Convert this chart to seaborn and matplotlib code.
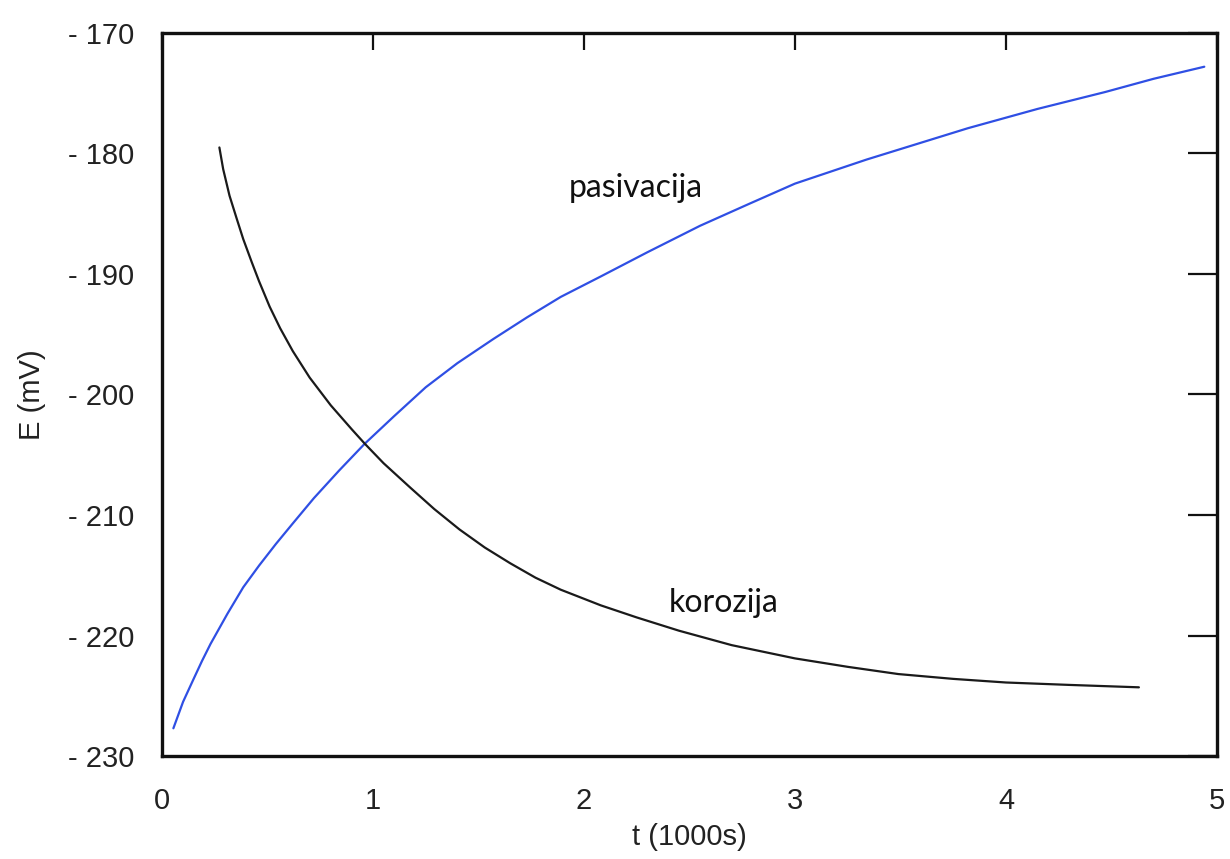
import pandas as pd
import matplotlib
matplotlib.use("Agg")
import matplotlib.pyplot as plt
import seaborn as sns
from matplotlib.ticker import FuncFormatter


# ---------------------------------------------------------
# data
# ---------------------------------------------------------

t_pasivacija = [0.054, 0.10, 0.15, 0.19, 0.23, 0.31, 0.385, 0.46, 0.54, 0.62,
                0.72, 0.84, 0.96, 1.10, 1.25, 1.40, 1.57, 1.73, 1.89, 2.08,
                2.30, 2.55, 2.78, 3.0, 3.34, 3.58, 3.82, 4.15, 4.47, 4.70, 4.94]
E_pasivacija = [-227.7, -225.5, -223.6, -222.1, -220.7, -218.2, -216.0, -214.2,
                -212.4, -210.7, -208.6, -206.3, -204.1, -201.8, -199.4, -197.4,
                -195.4, -193.6, -191.9, -190.2, -188.2, -186.0, -184.2, -182.5,
                -180.5, -179.2, -177.9, -176.3, -174.9, -173.8, -172.8]

t_korozija = [0.272, 0.29, 0.32, 0.354, 0.385, 0.425, 0.46, 0.51, 0.56, 0.62,
              0.70, 0.80, 0.90, 0.962, 1.05, 1.175, 1.29, 1.41, 1.53, 1.65,
              1.77, 1.89, 2.08, 2.25, 2.45, 2.70, 3.0, 3.25, 3.49, 3.75, 4.0,
              4.30, 4.63]
E_korozija = [-179.5, -181.3, -183.5, -185.4, -187.1, -189.0, -190.6, -192.7,
              -194.5, -196.4, -198.6, -200.9, -202.9, -204.1, -205.7, -207.7,
              -209.5, -211.2, -212.7, -214.0, -215.2, -216.2, -217.5, -218.5,
              -219.6, -220.8, -221.9, -222.6, -223.2, -223.6, -223.9, -224.1,
              -224.3]

x_ticks = [0, 1, 2, 3, 4, 5]
y_ticks = [-230, -220, -210, -200, -190, -180, -170]

labels = ["pasivacija", "korozija"]
label_pos = [(1.93, -182.9), (2.40, -217.3)]

df = pd.concat([
    pd.DataFrame({"t": t_pasivacija, "E": E_pasivacija, "krivulja": labels[0]}),
    pd.DataFrame({"t": t_korozija, "E": E_korozija, "krivulja": labels[1]}),
])


# ---------------------------------------------------------
# plot
# ---------------------------------------------------------

sns.set_style("white")
plt.rcParams["font.family"] = ["Liberation Sans", "DejaVu Sans"]

fig = plt.figure(figsize=(12.3, 8.59), dpi=100)
ax = fig.add_axes([0.1317, 0.1199, 0.8577, 0.8417])

sns.lineplot(
    data=df, x="t", y="E", hue="krivulja",
    palette={labels[0]: "#2f4fe4", labels[1]: "#1a1a1a"},
    linewidth=1.6, sort=False, legend=False, ax=ax,
)

ax.set_xlim(0, 5)
ax.set_ylim(-230, -170)
ax.set_xticks(x_ticks)
ax.set_yticks(y_ticks)
ax.yaxis.set_major_formatter(FuncFormatter(lambda v, p: f"- {abs(v):.0f}"))
ax.xaxis.set_major_formatter(FuncFormatter(lambda v, p: f"{v:.0f}"))

ax.tick_params(axis="both", direction="in", width=1.6,
               labelsize=21, color="#111111", labelcolor="#222222",
               top=True, right=True)
ax.tick_params(axis="x", pad=22, length=12)
ax.tick_params(axis="y", pad=20, length=21)

for sp in ax.spines.values():
    sp.set_linewidth(2.4)
    sp.set_color("#111111")

ax.set_xlabel("t (1000s)", fontsize=21, color="#222222", labelpad=6)
ax.set_ylabel("E (mV)", fontsize=21, color="#222222", labelpad=16)

for txt, (tx, ty) in zip(labels, label_pos):
    ax.text(tx, ty, txt, fontsize=23, family=["Lato", "DejaVu Sans"],
            color="#111111", ha="left", va="center")

fig.savefig("out.png", dpi=100)
